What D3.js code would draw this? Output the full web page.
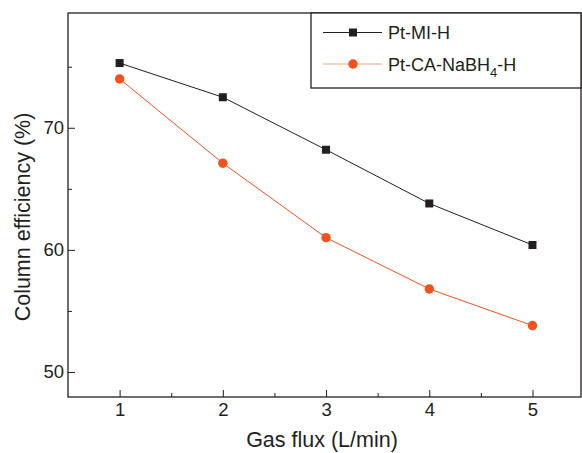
<!DOCTYPE html>
<html>
<head>
<meta charset="utf-8">
<script src="https://cdn.jsdelivr.net/npm/d3@7"></script>
<style>
  body { margin: 0; background: #fff; }
  text { font-family: "Liberation Sans", Arial, sans-serif; fill: #231f20; }
</style>
</head>
<body>
<script>
const gasFlux = [1, 2, 3, 4, 5];
const ptMIH = [75.3, 72.5, 68.2, 63.8, 60.4];
const ptCANaBH4H = [74.0, 67.1, 61.0, 56.8, 53.8];
const xTicks = [1, 2, 3, 4, 5];
const yTicks = [50, 60, 70];

const width = 582;
const height = 453;
const marginTop = 13;
const marginRight = 1;
const marginBottom = 56;
const marginLeft = 68;

const x = d3.scaleLinear()
    .domain([0.5, 5.47])
    .range([marginLeft, width - marginRight]);

const y = d3.scaleLinear()
    .domain([47.95, 79.4])
    .range([height - marginBottom, marginTop]);

const svg = d3.select("body")
  .append("svg")
    .attr("width", width)
    .attr("height", height)
    .attr("viewBox", [0, 0, width, height]);

// frame
svg.append("rect")
    .attr("x", marginLeft)
    .attr("y", marginTop)
    .attr("width", width - marginRight - marginLeft)
    .attr("height", height - marginBottom - marginTop)
    .attr("fill", "none")
    .attr("stroke", "#231f20")
    .attr("stroke-width", 1.3);

// X axis (ticks point inward)
svg.append("g")
    .attr("transform", `translate(0,${height - marginBottom})`)
    .call(d3.axisBottom(x).tickValues(xTicks).tickSize(-7).tickPadding(6).tickFormat(d3.format("d")))
    .call(g => g.select(".domain").remove())
    .call(g => g.selectAll("text").attr("font-size", 18.5).attr("font-family", "Liberation Sans, Arial, sans-serif").attr("fill", "#231f20"))
    .call(g => g.selectAll("line").attr("stroke", "#231f20"));

svg.append("g")
    .attr("transform", `translate(0,${height - marginBottom})`)
    .call(d3.axisBottom(x).tickValues([1.5, 2.5, 3.5, 4.5]).tickSize(-4).tickFormat(""))
    .call(g => g.select(".domain").remove())
    .call(g => g.selectAll("line").attr("stroke", "#231f20"));

// Y axis (ticks point inward)
svg.append("g")
    .attr("transform", `translate(${marginLeft},0)`)
    .call(d3.axisLeft(y).tickValues(yTicks).tickSize(-7).tickPadding(4))
    .call(g => g.select(".domain").remove())
    .call(g => g.selectAll("text").attr("font-size", 18.5).attr("font-family", "Liberation Sans, Arial, sans-serif").attr("fill", "#231f20"))
    .call(g => g.selectAll("line").attr("stroke", "#231f20"));

svg.append("g")
    .attr("transform", `translate(${marginLeft},0)`)
    .call(d3.axisLeft(y).tickValues([55, 65, 75]).tickSize(-4).tickFormat(""))
    .call(g => g.select(".domain").remove())
    .call(g => g.selectAll("line").attr("stroke", "#231f20"));

// series
const black = "#231f20";
const orange = "#f4511e";

const line = d3.line()
    .x((d, i) => x(gasFlux[i]))
    .y(d => y(d));

svg.append("path")
    .datum(ptMIH)
    .attr("fill", "none")
    .attr("stroke", black)
    .attr("stroke-width", 1)
    .attr("d", line);

svg.append("path")
    .datum(ptCANaBH4H)
    .attr("fill", "none")
    .attr("stroke", orange)
    .attr("stroke-width", 1)
    .attr("d", line);

svg.append("g")
  .selectAll("rect")
  .data(ptMIH)
  .join("rect")
    .attr("x", (d, i) => x(gasFlux[i]) - 4)
    .attr("y", d => y(d) - 4)
    .attr("width", 8)
    .attr("height", 8)
    .attr("fill", black);

svg.append("g")
  .selectAll("circle")
  .data(ptCANaBH4H)
  .join("circle")
    .attr("cx", (d, i) => x(gasFlux[i]))
    .attr("cy", d => y(d))
    .attr("r", 4.7)
    .attr("fill", orange);

// legend
const legend = svg.append("g");
legend.append("rect")
    .attr("x", 311)
    .attr("y", marginTop)
    .attr("width", width - marginRight - 311)
    .attr("height", 75)
    .attr("fill", "#fff")
    .attr("stroke", "#231f20")
    .attr("stroke-width", 1.3);

legend.append("line")
    .attr("x1", 323).attr("x2", 382).attr("y1", 32.5).attr("y2", 32.5)
    .attr("stroke", black);
legend.append("rect")
    .attr("x", 349).attr("y", 28.5).attr("width", 8).attr("height", 8)
    .attr("fill", black);
legend.append("text")
    .attr("x", 388).attr("y", 39)
    .attr("font-size", 18)
    .text("Pt-MI-H");

legend.append("line")
    .attr("x1", 323).attr("x2", 382).attr("y1", 64).attr("y2", 64)
    .attr("stroke", "#f4a080");
legend.append("circle")
    .attr("cx", 353).attr("cy", 64).attr("r", 4.7)
    .attr("fill", orange);
const t2 = legend.append("text")
    .attr("x", 388).attr("y", 70.5)
    .attr("font-size", 18);
t2.append("tspan").text("Pt-CA-NaBH");
t2.append("tspan").attr("font-size", 13).attr("dy", 6).text("4");
t2.append("tspan").attr("dy", -6).text("-H");

// axis titles
svg.append("text")
    .attr("text-anchor", "middle")
    .attr("x", 322)
    .attr("y", 447)
    .attr("font-size", 21.5)
    .text("Gas flux (L/min)");

svg.append("text")
    .attr("text-anchor", "middle")
    .attr("transform", "rotate(-90)")
    .attr("x", -217)
    .attr("y", 30)
    .attr("font-size", 21.5)
    .text("Column efficiency (%)");
</script>
</body>
</html>
